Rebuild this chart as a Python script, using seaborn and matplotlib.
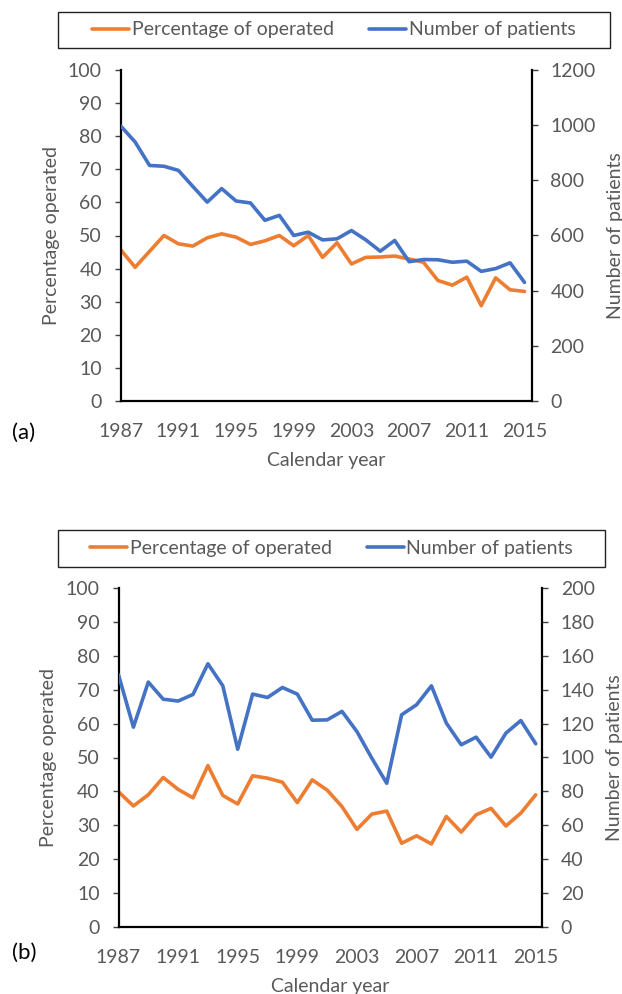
import numpy as np
import pandas as pd
import matplotlib.pyplot as plt
import seaborn as sns
from matplotlib.patches import Rectangle
from matplotlib.lines import Line2D

years = list(range(1987, 2016))

# panel (a)
pct_a = [45.7, 40.4, 45.2, 50.0, 47.5, 46.8, 49.3, 50.5, 49.5, 47.3,
         48.4, 50.0, 46.9, 50.0, 43.4, 47.8, 41.4, 43.4, 43.5, 43.8,
         42.9, 41.9, 36.4, 35.0, 37.4, 28.8, 37.2, 33.6, 33.1]
pat_a = [997, 939, 854, 851, 836, 778, 721, 770, 725, 718,
         655, 673, 600, 612, 584, 588, 618, 584, 543, 582,
         505, 513, 512, 503, 507, 470, 480, 501, 430]

# panel (b)
pct_b = [39.9, 35.7, 39.0, 44.1, 40.6, 38.1, 47.6, 38.8, 36.3, 44.6,
         43.9, 42.7, 36.7, 43.4, 40.4, 35.5, 28.8, 33.3, 34.2, 24.7,
         26.9, 24.5, 32.6, 28.0, 33.1, 35.0, 29.8, 33.6, 39.0]
pat_b = [148.8, 117.9, 144.5, 134.4, 133.3, 137.2, 155.3, 142.3, 104.9, 137.4,
         135.4, 141.3, 137.4, 122.0, 122.2, 127.2, 115.3, 99.6, 84.8, 125.2,
         131.1, 142.3, 120.3, 107.5, 112.0, 100.2, 114.4, 121.8, 108.1]

xticks = list(range(1987, 2016, 4))
orange = '#ED7D31'
blue = '#4472C4'
grey = '#595959'
fs = 14

sns.set_style("white")
plt.rcParams['font.family'] = ['Lato', 'DejaVu Sans']
plt.rcParams['font.size'] = fs

fig = plt.figure(figsize=(6.22, 9.94), dpi=100)
W, H = 622, 994


def px_axes(l, t, r, b):
    return fig.add_axes([l / W, 1 - b / H, (r - l) / W, (b - t) / H])


def draw_panel(ax, pct, pat, right_max, right_step, xmax):
    df = pd.DataFrame({'year': years, 'pct': pct, 'pat': pat})
    sns.lineplot(data=df, x='year', y='pct', ax=ax, color=orange, lw=2.6)
    ax2 = ax.twinx()
    sns.lineplot(data=df, x='year', y='pat', ax=ax2, color=blue, lw=2.6)

    ax.set_xlim(1987, xmax)
    ax.set_ylim(0, 100)
    ax.set_yticks(range(0, 101, 10))
    ax.set_xticks(xticks)
    ax2.set_ylim(0, right_max)
    ax2.set_yticks(range(0, right_max + 1, right_step))

    for a in (ax, ax2):
        for s in a.spines.values():
            s.set_visible(False)
        a.tick_params(colors='#404040', labelcolor=grey, labelsize=fs,
                      length=4.5, width=1, direction='out')
    ax.spines['left'].set_visible(True)
    ax.spines['bottom'].set_visible(True)
    ax2.spines['right'].set_visible(True)
    for s in (ax.spines['left'], ax.spines['bottom'], ax2.spines['right']):
        s.set_color('black')
        s.set_linewidth(1.6)
    ax.tick_params(axis='x', pad=11)
    ax.tick_params(axis='y', pad=9)
    ax2.tick_params(axis='y', pad=9)

    ax.set_xlabel('Calendar year', color=grey, fontsize=fs, labelpad=9)
    ax.set_ylabel('Percentage operated', color=grey, fontsize=fs, labelpad=6)
    ax2.set_ylabel('Number of patients', color=grey, fontsize=fs, labelpad=8)
    ax.grid(False)
    ax2.grid(False)
    return ax2


ax_a = px_axes(120.7, 70, 531.7, 401)
draw_panel(ax_a, pct_a, pat_a, 1200, 200, 2015.5)
ax_b = px_axes(118.5, 588, 542, 927)
draw_panel(ax_b, pct_b, pat_b, 200, 20, 2015.42)

fig.text(12 / W, 1 - 433 / H, '(a)', fontsize=16, color='black', va='center', ha='left')
fig.text(12 / W, 1 - 953 / H, '(b)', fontsize=16, color='black', va='center', ha='left')

# legend boxes above each panel
handles = [Line2D([], [], color=orange, lw=2.6), Line2D([], [], color=blue, lw=2.6)]
labels = ['Percentage of operated', 'Number of patients']
for (l, t, r, b) in [(58, 12, 610, 48), (58, 530, 605, 567)]:
    fig.patches.append(Rectangle((l / W, 1 - b / H), (r - l) / W, (b - t) / H,
                                 transform=fig.transFigure, fill=False,
                                 edgecolor='#222222', lw=1.0))
    fig.legend(handles, labels, loc='center', ncol=2, frameon=False,
               bbox_to_anchor=((l + r) / 2 / W, 1 - (t + b) / 2 / H),
               fontsize=fs, labelcolor=grey, handlelength=1.9,
               handletextpad=0.15, columnspacing=1.8)

fig.savefig('out.png', dpi=100)
